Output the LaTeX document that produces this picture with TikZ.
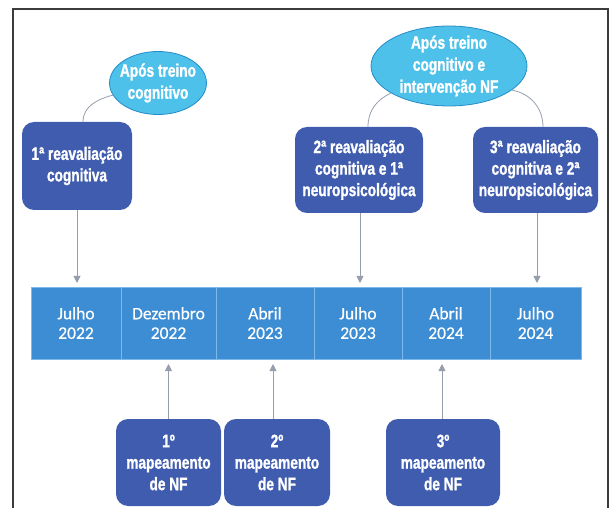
\documentclass[tikz,border=0pt]{standalone}
\usepackage{fontspec}
\usepackage{xcolor}
\usepackage{tikz}
\usetikzlibrary{arrows.meta, positioning, calc, shapes.geometric}
\newfontfamily\labelfont[FakeStretch=0.76, FakeBold=1.2]{Liberation Sans}
\newfontfamily\datefont[FakeBold=0.4]{Carlito}
\definecolor{boxblue}{RGB}{63, 92, 174}
\definecolor{ovalfill}{RGB}{78, 193, 234}
\definecolor{ovalline}{RGB}{36, 140, 198}
\definecolor{barblue}{RGB}{60, 141, 212}
\definecolor{barline}{RGB}{125, 185, 235}
\definecolor{linkgray}{RGB}{150, 158, 172}
\definecolor{framegray}{RGB}{60, 60, 60}

\begin{document}
\begin{tikzpicture}[x=1pt, y=1pt, >={Triangle[width=7pt, length=7pt]},
    stage/.style={rectangle, rounded corners=12pt, fill=boxblue, text=white, align=center,
        font=\labelfont\bfseries\fontsize{18}{21.5}\selectfont, inner sep=0pt},
    oval/.style={ellipse, fill=ovalfill, draw=ovalline, line width=0.8pt, text=white, align=center,
        font=\labelfont\bfseries\fontsize{18}{22}\selectfont, inner sep=-10pt},
    cell/.style={rectangle, fill=barblue, draw=barline, line width=0.7pt, outer sep=0pt,
        minimum height=72pt, text=white, align=center,
        font=\datefont\fontsize{17.5}{19.5}\selectfont, inner sep=0pt},
    link/.style={linkgray, line width=0.8pt},
    arr/.style={->, linkgray, line width=0.9pt}]
    \useasboundingbox (0,0) rectangle (611,507);
    \draw[framegray, line width=1.5pt] (13,-2) -- (13,498) -- (608,498) -- (608,-2);

    % ovals
    \node[oval, minimum width=97pt, minimum height=63pt] (e1) at (158,424) {Após treino\\cognitivo};
    \node[oval, minimum width=156pt, minimum height=80pt] (e2) at (449,441) {Após treino\\cognitivo e\\intervenção NF};

    % reavaliacoes
    \node[stage, minimum width=110pt, minimum height=88pt] (r1) at (77,341) {1ª reavaliação\\cognitiva};
    \node[stage, minimum width=128pt, minimum height=86pt] (r2) at (359,337) {2ª reavaliação\\cognitiva e 1ª\\neuropsicológica};
    \node[stage, minimum width=125pt, minimum height=86pt] (r3) at (535.5,337) {3ª reavaliação\\cognitiva e 2ª\\neuropsicológica};

    % timeline
    \node[cell, minimum width=90pt, anchor=west] (d1) at (31,184) {Julho\\2022};
    \node[cell, minimum width=95pt, right=0pt of d1] (d2) {Dezembro\\2022};
    \node[cell, minimum width=98pt, right=0pt of d2] (d3) {Abril\\2023};
    \node[cell, minimum width=88pt, right=0pt of d3] (d4) {Julho\\2023};
    \node[cell, minimum width=88pt, right=0pt of d4] (d5) {Abril\\2024};
    \node[cell, minimum width=91pt, right=0pt of d5] (d6) {Julho\\2024};

    % mapeamentos
    \node[stage, minimum width=105pt, minimum height=87pt] (m1) at (168.5,44.5) {1º\\mapeamento\\de NF};
    \node[stage, minimum width=106pt, minimum height=87pt] (m2) at (277,44.5) {2º\\mapeamento\\de NF};
    \node[stage, minimum width=114pt, minimum height=87pt] (m3) at (443,44.5) {3º\\mapeamento\\de NF};

    \draw[link] ([xshift=6pt]r1.north) to[out=90, in=195] (e1.195);
    \draw[link] ([xshift=9pt]r2.north) to[out=90, in=205] (e2.205);
    \draw[link] (e2.-21) to[out=-10, in=90] ([xshift=7.5pt]r3.north);

    \draw[arr, shorten >=4pt] (r1.south) -- (r1.south |- d1.north);
    \draw[arr, shorten >=4pt] ([xshift=1pt]r2.south) -- ([xshift=1pt]r2.south |- d4.north);
    \draw[arr, shorten >=4pt] ([xshift=1.5pt]r3.south) -- ([xshift=1.5pt]r3.south |- d6.north);
    \draw[arr, shorten >=5pt] (m1.north) -- (m1.north |- d2.south);
    \draw[arr, shorten >=5pt] ([xshift=-4pt]m2.north) -- ([xshift=-4pt]m2.north |- d3.south);
    \draw[arr, shorten >=5pt] ([xshift=-1pt]m3.north) -- ([xshift=-1pt]m3.north |- d5.south);
\end{tikzpicture}
\end{document}
